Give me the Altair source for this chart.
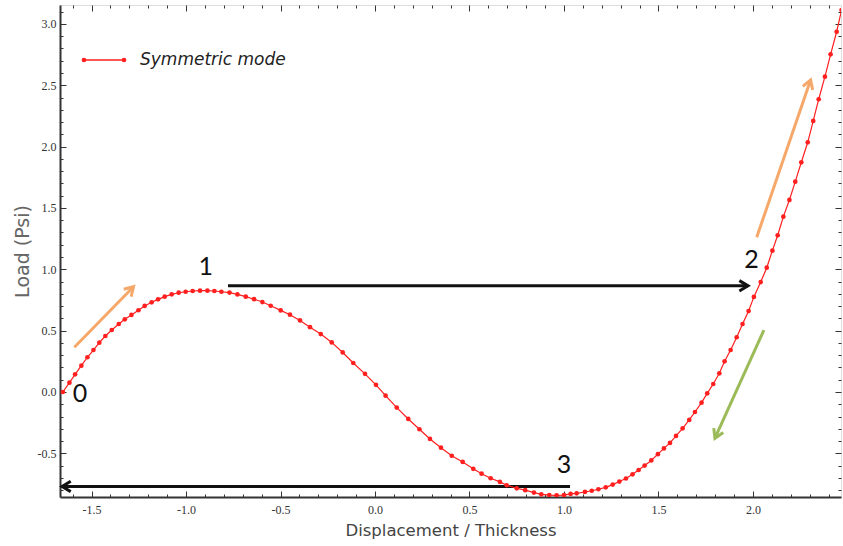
import math
import altair as alt
import pandas as pd

# ---------------- data ----------------
series_name = "Symmetric mode"

disp = [-1.652, -1.617, -1.587, -1.554, -1.522, -1.490, -1.459, -1.427, -1.393, -1.356,
        -1.324, -1.289, -1.252, -1.219, -1.182, -1.148, -1.113, -1.076, -1.039, -1.002,
        -0.965, -0.926, -0.887, -0.850, -0.813, -0.770, -0.728, -0.684, -0.640, -0.596,
        -0.552, -0.499, -0.450, -0.397, -0.344, -0.287, -0.229, -0.171, -0.115, -0.053,
        0.005, 0.056, 0.115, 0.176, 0.235, 0.291, 0.349, 0.406, 0.464, 0.520,
        0.564, 0.612, 0.661, 0.697, 0.750, 0.795, 0.841, 0.880, 0.922, 0.961,
        1.000, 1.035, 1.067, 1.111, 1.147, 1.182, 1.221, 1.258, 1.293, 1.328,
        1.363, 1.395, 1.427, 1.462, 1.497, 1.529, 1.561, 1.593, 1.628, 1.663,
        1.693, 1.728, 1.758, 1.790, 1.822, 1.850, 1.882, 1.914, 1.945, 1.977,
        2.005, 2.041, 2.073, 2.103, 2.131, 2.161, 2.193, 2.224, 2.256, 2.290,
        2.319, 2.348, 2.381, 2.411, 2.443, 2.469]
load = [0.000, 0.076, 0.144, 0.214, 0.283, 0.342, 0.402, 0.456, 0.505, 0.554,
        0.592, 0.628, 0.666, 0.701, 0.731, 0.755, 0.777, 0.796, 0.809, 0.817,
        0.823, 0.826, 0.826, 0.823, 0.817, 0.810, 0.795, 0.777, 0.756, 0.733,
        0.703, 0.665, 0.630, 0.583, 0.528, 0.472, 0.404, 0.322, 0.236, 0.148,
        0.058, -0.030, -0.127, -0.220, -0.304, -0.383, -0.454, -0.520, -0.570, -0.626,
        -0.666, -0.703, -0.733, -0.760, -0.785, -0.800, -0.820, -0.834, -0.840, -0.842,
        -0.840, -0.831, -0.826, -0.815, -0.805, -0.793, -0.777, -0.755, -0.730, -0.705,
        -0.671, -0.636, -0.600, -0.558, -0.507, -0.460, -0.415, -0.358, -0.296, -0.228,
        -0.163, -0.087, -0.011, 0.065, 0.152, 0.250, 0.342, 0.446, 0.554, 0.660,
        0.775, 0.896, 1.013, 1.152, 1.277, 1.429, 1.565, 1.714, 1.872, 2.035,
        2.209, 2.386, 2.570, 2.752, 2.936, 3.113]

x_major = [-1.5, -1.0, -0.5, 0.0, 0.5, 1.0, 1.5, 2.0]
x_minor = [round(-1.6 + 0.1 * i, 1) for i in range(41)]
y_major = [-0.5, 0.0, 0.5, 1.0, 1.5, 2.0, 2.5, 3.0]
y_minor = [round(-0.8 + 0.1 * i, 1) for i in range(40)]

point_labels = ["0", "1", "2", "3"]
point_label_x = [-1.561, -0.896, 1.993, 1.000]
point_label_y = [-0.016, 1.021, 1.076, -0.595]

arrow_kind = ["jump", "jump", "loading", "loading", "unloading"]
arrow_x0 = [-0.778, 1.032, -1.591, 2.020, 2.058]
arrow_y0 = [0.865, -0.770, 0.364, 1.261, 0.505]
arrow_x1 = [1.974, -1.656, -1.278, 2.305, 1.799]
arrow_y1 = [0.865, -0.770, 0.858, 2.543, -0.377]

# ---------------- layout / style ----------------
W, H = 781, 492
X_DOM = [-1.667, 2.466]
Y_DOM = [-0.856, 3.154]
RED = "#ff1f1f"
KIND_COLORS = {"jump": "#111111", "loading": "#f5a86a", "unloading": "#9bbb59"}
TICK_COL = "#333333"

xscale = alt.Scale(domain=X_DOM, nice=False, zero=False)
yscale = alt.Scale(domain=Y_DOM, nice=False, zero=False)

LABEL_EXPR = "(datum.value < 0 ? '-' : '') + format(abs(datum.value), '.1f')"
MAJOR_TEST = "abs(datum.value * 2 - round(datum.value * 2)) < 0.001"


def tick_axis(orient, offset, values):
    return alt.Axis(orient=orient, offset=offset, values=values, labels=False,
                    domain=False, title=None, grid=False, ticks=True,
                    tickColor=TICK_COL, tickWidth=1,
                    tickSize={"condition": {"test": MAJOR_TEST, "value": 6}, "value": 3})


x_main_axis = alt.Axis(orient="bottom", values=x_major, ticks=False, grid=False,
                       domain=True, domainColor="#333333", domainWidth=2,
                       labelFont="Liberation Serif", labelFontSize=12, labelColor="#333333",
                       labelPadding=7, labelFlush=False, labelExpr=LABEL_EXPR,
                       title="Displacement / Thickness", titleFont="DejaVu Sans",
                       titleFontSize=16.5, titleFontWeight="normal", titleColor="#444444",
                       titlePadding=7)
y_main_axis = alt.Axis(orient="left", values=y_major, ticks=False, grid=False,
                       domain=True, domainColor="#333333", domainWidth=2,
                       labelFont="Liberation Serif", labelFontSize=12, labelColor="#333333",
                       labelPadding=4, labelFlush=False, labelExpr=LABEL_EXPR,
                       title="Load (Psi)", titleFont="DejaVu Sans",
                       titleFontSize=19, titleFontWeight="normal", titleColor="#666666",
                       titlePadding=5)

LEG_PATH = ("M-1,0L1,0"
            "M-1.08,0a0.08,0.08 0 1,0 0.16,0a0.08,0.08 0 1,0 -0.16,0"
            "M0.92,0a0.08,0.08 0 1,0 0.16,0a0.08,0.08 0 1,0 -0.16,0")
CHEVRON = "M-0.6,1L0,0L0.6,1"

# ---------------- tables ----------------
curve_df = pd.DataFrame({"disp": disp, "load": load, "series": series_name})

arrow_df = pd.DataFrame({"x0": arrow_x0, "y0": arrow_y0, "x1": arrow_x1,
                         "y1": arrow_y1, "kind": arrow_kind})
arrow_df["col"] = arrow_df["kind"].map(KIND_COLORS)
px_x = W / (X_DOM[1] - X_DOM[0])
px_y = H / (Y_DOM[1] - Y_DOM[0])
arrow_df["angle"] = [
    math.degrees(math.atan2((x1 - x0) * px_x, (y1 - y0) * px_y)) % 360
    for x0, y0, x1, y1 in zip(arrow_x0, arrow_y0, arrow_x1, arrow_y1)
]

label_df = pd.DataFrame({"lx": point_label_x, "ly": point_label_y, "txt": point_labels})

# ---------------- layers ----------------
shafts = alt.Chart(arrow_df).mark_rule(strokeWidth=3).encode(
    x=alt.X("x0:Q", scale=xscale, axis=tick_axis("top", -H, x_minor)),
    x2="x1:Q",
    y=alt.Y("y0:Q", scale=yscale, axis=tick_axis("right", -W, y_minor)),
    y2="y1:Q",
    color=alt.Color("col:N", scale=None),
)

heads = alt.Chart(arrow_df).mark_point(shape=CHEVRON, filled=False, size=300,
                                        strokeWidth=3, opacity=1).encode(
    x=alt.X("x1:Q", scale=xscale, axis=None),
    y=alt.Y("y1:Q", scale=yscale, axis=None),
    angle=alt.Angle("angle:Q", scale=None),
    color=alt.Color("col:N", scale=None),
)

curve = alt.Chart(curve_df).mark_line(
    strokeWidth=1.2, clip=True,
    point=alt.OverlayMarkDef(filled=True, size=22, clip=True),
).encode(
    x=alt.X("disp:Q", scale=xscale, axis=x_main_axis),
    y=alt.Y("load:Q", scale=yscale, axis=y_main_axis),
    color=alt.Color("series:N", scale=alt.Scale(domain=[series_name], range=[RED]),
                    legend=alt.Legend(title=None, orient="none", legendX=23, legendY=34,
                                      symbolType=LEG_PATH, symbolSize=1600,
                                      symbolStrokeWidth=1.5, symbolStrokeColor=RED,
                                      labelFont="DejaVu Sans", labelFontStyle="italic",
                                      labelFontSize=17, labelColor="#222222",
                                      labelOffset=15, padding=0)),
)

texts = alt.Chart(label_df).mark_text(font="Lato", fontSize=25, color="#111111",
                                      align="center", baseline="middle").encode(
    x=alt.X("lx:Q", scale=xscale, axis=tick_axis("bottom", -H, x_minor)),
    y=alt.Y("ly:Q", scale=yscale, axis=tick_axis("left", -W, y_minor)),
    text="txt:N",
)

chart = alt.layer(shafts, heads, curve, texts).resolve_axis(
    x="independent", y="independent"
).properties(
    width=W, height=H,
    autosize=alt.AutoSizeParams(type="none"),
    padding={"left": 60, "top": 5, "right": 2, "bottom": 49},
).configure_view(
    fill="#d9d9d9", stroke="#333333", strokeWidth=1
).configure(background="white")

chart.save("out.html", embed_options={"renderer": "svg", "actions": False})
